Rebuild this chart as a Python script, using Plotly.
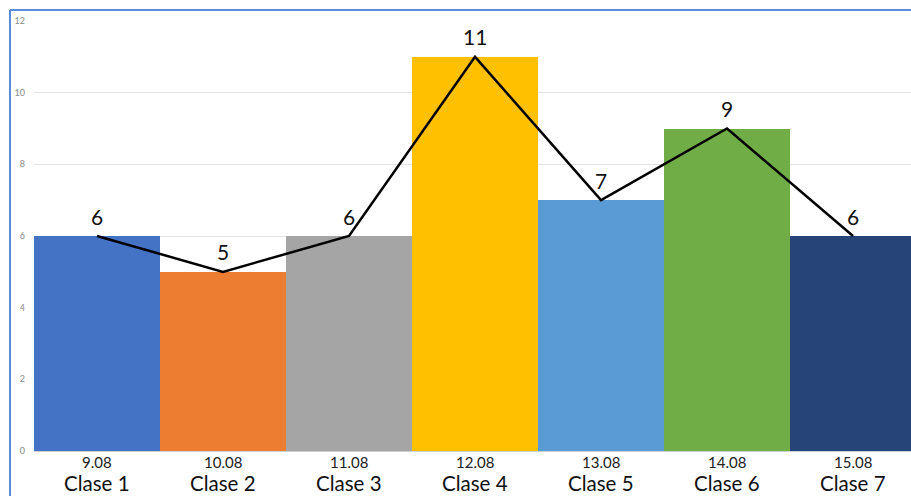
import plotly.graph_objects as go

# Attendance per class session
dates = ["9.08", "10.08", "11.08", "12.08", "13.08", "14.08", "15.08"]
classes = ["Clase 1", "Clase 2", "Clase 3", "Clase 4", "Clase 5", "Clase 6", "Clase 7"]
values = [6, 5, 6, 11, 7, 9, 6]
colors = ["#4472C4", "#ED7D31", "#A5A5A5", "#FFC000", "#5B9BD5", "#70AD47", "#264478"]
y_ticks = [0, 2, 4, 6, 8, 10, 12]

FONT = "Lato, 'Open Sans', sans-serif"
x = list(range(len(classes)))

fig = go.Figure()
fig.add_trace(go.Bar(
    x=x, y=values, marker=dict(color=colors, line=dict(width=0)),
    showlegend=False, hoverinfo="skip",
))
fig.add_trace(go.Scatter(
    x=x, y=values, mode="lines",
    line=dict(color="#000000", width=2.5),
    showlegend=False, hoverinfo="skip",
))

# value labels above each line vertex
for xi, v in zip(x, values):
    fig.add_annotation(x=xi, y=v, text=str(v), showarrow=False,
                       yshift=20, font=dict(size=21, color="#111111", family=FONT))

# two-line category labels: date on top, class name below
for xi, d, c in zip(x, dates, classes):
    fig.add_annotation(x=xi, xref="x", y=0, yref="paper", text=d, showarrow=False,
                       yanchor="middle", yshift=-11, borderpad=0,
                       font=dict(size=15, color="#222222", family=FONT))
    fig.add_annotation(x=xi, xref="x", y=0, yref="paper", text=c, showarrow=False,
                       yanchor="middle", yshift=-32, borderpad=0,
                       font=dict(size=20.5, color="#111111", family=FONT))

W, H = 911, 496
L, R, T, B = 34, 0, 21, 45
pw, ph = W - L - R, H - T - B


def px(xp):
    return (xp - L) / pw


def py(yp):
    return (H - B - yp) / ph


border = dict(color="#5B8BDB", width=2)
fig.add_shape(type="line", xref="paper", yref="paper",
              x0=px(10), x1=px(911), y0=py(10), y1=py(10), line=border)
fig.add_shape(type="line", xref="paper", yref="paper",
              x0=px(10), x1=px(10), y0=py(10), y1=py(496), line=border)

fig.update_layout(
    width=W, height=H,
    margin=dict(l=L, r=R, t=T, b=B),
    paper_bgcolor="white", plot_bgcolor="white",
    bargap=0,
    font=dict(family=FONT, color="#222222"),
    xaxis=dict(
        range=[-0.5, 6.46], tickmode="array", tickvals=x, showticklabels=False,
        showgrid=False, zeroline=False, showline=False, ticks="",
    ),
    yaxis=dict(
        range=[0, 12], tickmode="array", tickvals=y_ticks,
        showgrid=True, gridcolor="#E3E3E3", gridwidth=1,
        zeroline=True, zerolinecolor="#D0D0D0", zerolinewidth=1,
        tickfont=dict(size=9, color="#8A8A8A", family=FONT),
        ticklabelstandoff=8,
    ),
)

fig.write_html("out.html")
